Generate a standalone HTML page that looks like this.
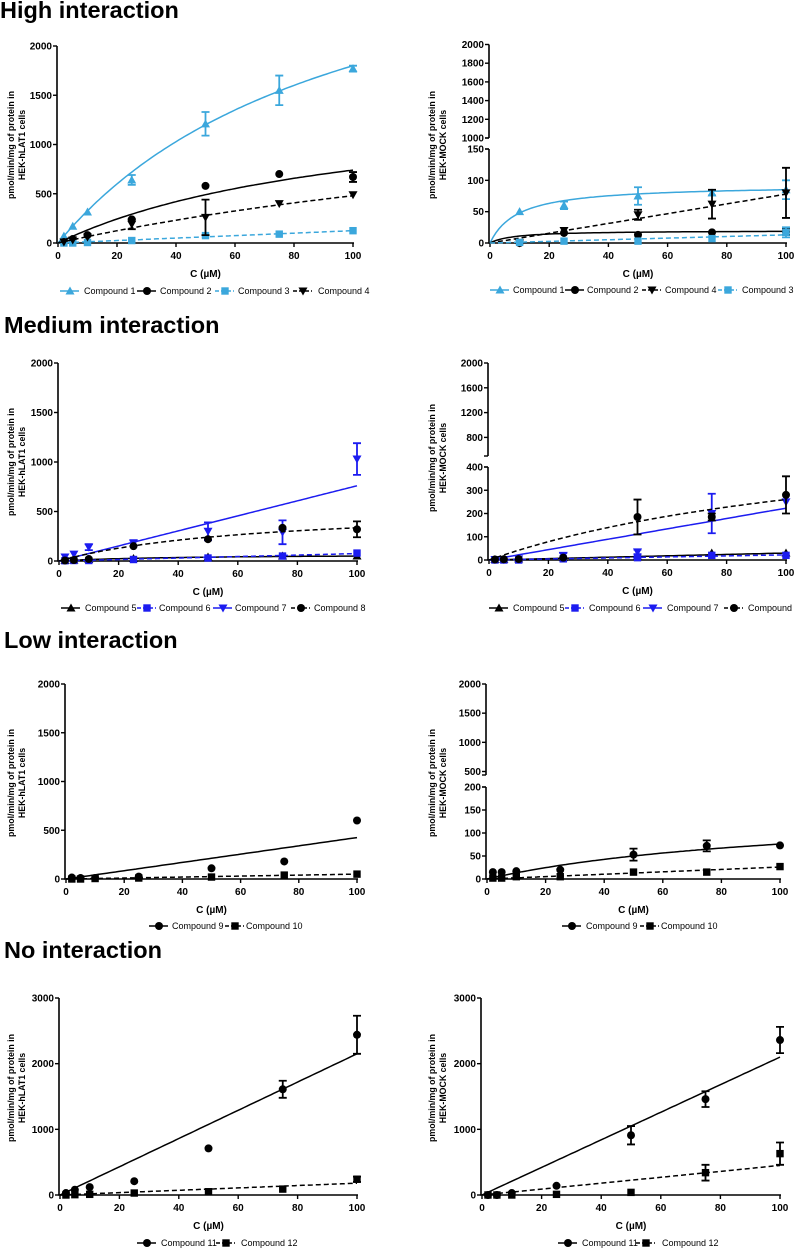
<!DOCTYPE html>
<html><head><meta charset="utf-8">
<style>
html,body{margin:0;padding:0;background:#fff;}
svg{display:block;font-family:"Liberation Sans",Arial,sans-serif;}
.t{font-weight:bold;font-size:23.5px;}
.tk{font-weight:bold;font-size:10px;}
.yt{font-weight:bold;font-size:8.8px;}
.lg{font-size:9px;}
</style></head>
<body>
<svg id="fig" width="794" height="1249" viewBox="0 0 794 1249">
<text class="t" x="0" y="18">High interaction</text>
<text class="t" x="4" y="333">Medium interaction</text>
<text class="t" x="4" y="648">Low interaction</text>
<text class="t" x="4" y="958">No interaction</text>
</svg>
<script>
// ---------- data ----------
const xConc = [2,5,10,25,50,75,100];
const xTicks = [0,20,40,60,80,100];
// Panel A (high, hLAT1)
const a1y=[70,170,315,640,1210,1550,1770], a1e=[0,0,0,50,120,150,30];
const a2y=[10,40,80,240,580,700,670], a2e=[0,0,0,0,0,0,50];
const a3y=[0,0,5,25,75,90,125], a3e=[0,0,0,0,0,0,0];
const a4y=[10,30,60,190,260,400,490], a4e=[0,0,0,50,180,0,0];
// Panel B (high, MOCK)
const bX=[10,25,50,75,100];
const b1y=[50,60,75,80,85], b1e=[0,6,14,4,15];
const b2y=[0,16,13,17,18], b2e=[0,0,0,0,5];
const b4y=[0,20,45,62,80], b4e=[0,0,8,23,40];
const b3y=[1,3,3,7,17], b3e=[0,0,0,0,8];
// Panel C (medium, hLAT1)
const c5y=[5,10,15,25,40,50,50], c5e=[0,0,0,0,0,0,0];
const c6y=[3,5,5,15,30,50,80], c6e=[0,0,0,0,0,0,0];
const c7y=[40,70,140,180,300,290,1030], c7e=[0,0,30,30,90,120,160];
const c8y=[5,10,20,150,220,335,320], c8e=[0,0,0,0,0,0,80];
// Panel D (medium, MOCK)
const d5y=[2,3,5,10,15,30,30], d5e=[0,0,0,0,0,0,0];
const d6y=[0,0,0,5,10,20,20], d6e=[0,0,0,0,0,0,0];
const d7y=[2,2,5,20,35,200,250], d7e=[0,0,0,10,10,85,0];
const d8y=[2,3,4,10,185,185,280], d8e=[0,0,0,0,75,15,80];
// Panel E (low, hLAT1)
const e9y=[15,10,10,25,110,180,600], e9e=[0,0,0,0,0,0,0];
const e10y=[0,0,5,10,20,40,50], e10e=[0,0,0,0,0,0,0];
// Panel F (low, MOCK)
const f9y=[15,15,17,20,53,72,73], f9e=[0,0,0,0,13,12,0];
const f10y=[2,2,5,5,15,15,27], f10e=[0,0,0,0,0,0,0];
// Panel G (none, hLAT1)
const g11y=[30,80,120,210,710,1610,2440], g11e=[0,0,0,0,0,130,290];
const g12y=[0,5,10,30,50,90,240], g12e=[0,0,0,0,0,0,40];
// Panel H (none, MOCK)
const h11y=[0,0,30,140,910,1460,2360], h11e=[0,0,0,0,140,120,200];
const h12y=[0,0,0,10,40,340,630], h12e=[0,0,0,0,0,120,170];
// fit parameters: Michaelis-Menten [Vmax, Km] or linear [slope]
const fitA=[[3600,100],[1510,104],[1.25],[1680,250]];
const fitB=[[93,9.4],[20,8],[0.78],[0.13]];
const fitC=[[70,40],[0.75],[7.6],[555,65.5]];
const fitD=[[0.3],[0.22],[2.23],[614,136]];
const fitE=[[4.25],[0.5]];
const fitF=[[158,108],[0.26]];
const fitG=[[21.5],[1.8]];
const fitH=[[21],[4.5]];

// ---------- rendering ----------
const NS="http://www.w3.org/2000/svg";
const svg=document.getElementById('fig');
const LB="#3ba7dc", BL="#1c1cf0", K="#000";
function mk(tag,attrs,parent){const e=document.createElementNS(NS,tag);for(const k in attrs)e.setAttribute(k,attrs[k]);(parent||svg).appendChild(e);return e;}

function marker(g,type,x,y,color){
  let m;
  if(type==='tri') m=mk('polygon',{points:`${x},${y-4.5} ${x-4.5},${y+3.5} ${x+4.5},${y+3.5}`,fill:color},g);
  else if(type==='dtri') m=mk('polygon',{points:`${x},${y+4.5} ${x-4.5},${y-3.5} ${x+4.5},${y-3.5}`,fill:color},g);
  else if(type==='circ') m=mk('circle',{cx:x,cy:y,r:4,fill:color},g);
  else m=mk('rect',{x:x-3.7,y:y-3.7,width:7.4,height:7.4,fill:color},g);
  
  
  return m;
}

function panel(p){
  const g=mk('g',{});
  
  
  const X=v=>p.x0+(p.x1-p.x0)*v/100;
  const Y=v=>{
    let s=p.segs[0];
    if(v>s.hi && p.segs[1]) s=p.segs[1];
    const vv=Math.max(s.lo,Math.min(s.hi,v));
    return s.yb+(s.yt-s.yb)*(vv-s.lo)/(s.hi-s.lo);
  };
  p.segs.forEach((s,i)=>{
    const ax=mk('line',{x1:p.x0-1,y1:s.yb,x2:p.x0-1,y2:s.yt,stroke:K,'stroke-width':1.6},g);
    
    
    if(p.segs.length>1){
      const yy=i===0?s.yt:s.yb;
      mk('line',{x1:p.x0-5,y1:yy,x2:p.x0-1,y2:yy,stroke:K,'stroke-width':1.4},g);
    }
    s.ticks.forEach(t=>{
      const y=Y(t);
      mk('line',{x1:p.x0-5,y1:y,x2:p.x0-1,y2:y,stroke:K,'stroke-width':1.4},g);
      const tx=mk('text',{x:p.x0-6,y:y+3.5,'text-anchor':'end',class:'tk'},g);
      tx.textContent=t;
      
      
    });
  });
  const y0=p.segs[0].yb;
  const xa=mk('line',{x1:p.x0-1.8,y1:y0,x2:p.x1+1,y2:y0,stroke:K,'stroke-width':1.6},g);
  
  
  xTicks.forEach(t=>{
    mk('line',{x1:X(t),y1:y0,x2:X(t),y2:y0+4,stroke:K,'stroke-width':1.4},g);
    const tx=mk('text',{x:X(t),y:y0+16,'text-anchor':'middle',class:'tk'},g);
    tx.textContent=t;
    
    
  });
  const xl=mk('text',{x:(p.x0+p.x1)/2,y:y0+34,'text-anchor':'middle',class:'tk'},g);
  xl.textContent='C (\u00b5M)';
  
  
  const yt=mk('text',{transform:`translate(${p.ytx},${p.ytc}) rotate(-90)`,'text-anchor':'middle',class:'yt'},g);
  
  
  const s1=mk('tspan',{x:0,y:0},yt); s1.textContent='pmol/min/mg of protein in';
  const s2=mk('tspan',{x:0,y:11},yt); s2.textContent=p.cells;
  p.series.forEach((s,si)=>{
    const sg=mk('g',{},g);
    
    
    const f=s.fit; let pts=[];
    for(let i=0;i<=100;i++){const x=i;const v=f.length===2?f[0]*x/(f[1]+x):f[0]*x;pts.push(X(x).toFixed(1)+','+Y(v).toFixed(1));}
    const fl=mk('polyline',{points:pts.join(' '),fill:'none',stroke:s.color,'stroke-width':1.5,'stroke-dasharray':s.dash?'5,3':'none'},sg);
    
    
    s.xs.forEach((x,i)=>{
      const e=s.err[i], v=s.ys[i];
      if(e>0){
        const yt2=Y(v+e), yb2=Y(Math.max(0,v-e)), cx=X(x);
        const eb=mk('path',{d:`M${cx},${yt2}V${yb2}M${cx-4},${yt2}H${cx+4}M${cx-4},${yb2}H${cx+4}`,stroke:s.color,'stroke-width':1.8,fill:'none'},sg);
        
        
      }
      marker(sg,s.m,X(x),Y(v),s.color);
    });
  });
  p.series.forEach((s,i)=>{
    const lx=p.leg[i][0], ly=p.legY;
    const lg=mk('g',{},g);
    
    
    mk('line',{x1:lx,y1:ly,x2:lx+19,y2:ly,stroke:s.color,'stroke-width':1.4,'stroke-dasharray':s.dash?'4,2':'none'},lg);
    const mm=marker(lg,s.m,lx+10,ly,s.color);
    
    const t=mk('text',{x:p.leg[i][1],y:ly+3,class:'lg'},lg);
    t.textContent=s.label;
  });
}

function S(label,color,dash,m,xs,ys,err,fit){return {label,color,dash,m,xs,ys,err,fit};}
const T05=[0,500,1000,1500,2000];

panel({name:'panel-high-hlat1',x0:58,x1:353,ytx:14,ytc:145,cells:'HEK-hLAT1 cells',
  segs:[{lo:0,hi:2000,yb:243,yt:46,ticks:T05}],legY:291,
  leg:[[60,84],[137,160],[215,238],[293,318]],
  series:[S('Compound 1',LB,false,'tri',xConc,a1y,a1e,fitA[0]),S('Compound 2',K,false,'circ',xConc,a2y,a2e,fitA[1]),
          S('Compound 3',LB,true,'sq',xConc,a3y,a3e,fitA[2]),S('Compound 4',K,true,'dtri',xConc,a4y,a4e,fitA[3])]});
panel({name:'panel-high-mock',x0:490,x1:786,ytx:435,ytc:145,cells:'HEK-MOCK cells',
  segs:[{lo:0,hi:150,yb:243,yt:149,ticks:[0,50,100,150]},{lo:1000,hi:2000,yb:138,yt:44.5,ticks:[1000,1200,1400,1600,1800,2000]}],legY:290,
  leg:[[490,513],[565,587],[642,665],[718,742]],
  series:[S('Compound 1',LB,false,'tri',bX,b1y,b1e,fitB[0]),S('Compound 2',K,false,'circ',bX,b2y,b2e,fitB[1]),
          S('Compound 4',K,true,'dtri',bX,b4y,b4e,fitB[2]),S('Compound 3',LB,true,'sq',bX,b3y,b3e,fitB[3])]});
panel({name:'panel-medium-hlat1',x0:59,x1:357,ytx:14,ytc:462,cells:'HEK-hLAT1 cells',
  segs:[{lo:0,hi:2000,yb:561,yt:363,ticks:T05}],legY:608,
  leg:[[61,85],[137,159],[213,235],[291,314]],
  series:[S('Compound 5',K,false,'tri',xConc,c5y,c5e,fitC[0]),S('Compound 6',BL,true,'sq',xConc,c6y,c6e,fitC[1]),
          S('Compound 7',BL,false,'dtri',xConc,c7y,c7e,fitC[2]),S('Compound 8',K,true,'circ',xConc,c8y,c8e,fitC[3])]});
panel({name:'panel-medium-mock',x0:489,x1:786,ytx:435,ytc:458,cells:'HEK-MOCK cells',
  segs:[{lo:0,hi:400,yb:560,yt:467,ticks:[0,100,200,300,400]},{lo:500,hi:2000,yb:456,yt:363,ticks:[800,1200,1600,2000]}],legY:608,
  leg:[[489,513],[565,589],[643,667],[724,748]],
  series:[S('Compound 5',K,false,'tri',xConc,d5y,d5e,fitD[0]),S('Compound 6',BL,true,'sq',xConc,d6y,d6e,fitD[1]),
          S('Compound 7',BL,false,'dtri',xConc,d7y,d7e,fitD[2]),S('Compound 8',K,true,'circ',xConc,d8y,d8e,fitD[3])]});
panel({name:'panel-low-hlat1',x0:66,x1:357,ytx:14,ytc:783,cells:'HEK-hLAT1 cells',
  segs:[{lo:0,hi:2000,yb:879,yt:684,ticks:T05}],legY:926,
  leg:[[149,172],[225,246]],
  series:[S('Compound 9',K,false,'circ',xConc,e9y,e9e,fitE[0]),S('Compound 10',K,true,'sq',xConc,e10y,e10e,fitE[1])]});
panel({name:'panel-low-mock',x0:487,x1:780,ytx:435,ytc:783,cells:'HEK-MOCK cells',
  segs:[{lo:0,hi:200,yb:879,yt:787,ticks:[0,50,100,150,200]},{lo:440,hi:2000,yb:775,yt:684,ticks:[500,1000,1500,2000]}],legY:926,
  leg:[[562,586],[640,661]],
  series:[S('Compound 9',K,false,'circ',xConc,f9y,f9e,fitF[0]),S('Compound 10',K,true,'sq',xConc,f10y,f10e,fitF[1])]});
panel({name:'panel-none-hlat1',x0:60,x1:357,ytx:14,ytc:1088,cells:'HEK-hLAT1 cells',
  segs:[{lo:0,hi:3000,yb:1195,yt:998,ticks:[0,1000,2000,3000]}],legY:1243,
  leg:[[137,161],[216,241]],
  series:[S('Compound 11',K,false,'circ',xConc,g11y,g11e,fitG[0]),S('Compound 12',K,true,'sq',xConc,g12y,g12e,fitG[1])]});
panel({name:'panel-none-mock',x0:482,x1:780,ytx:435,ytc:1088,cells:'HEK-MOCK cells',
  segs:[{lo:0,hi:3000,yb:1195,yt:998,ticks:[0,1000,2000,3000]}],legY:1243,
  leg:[[558,582],[636,662]],
  series:[S('Compound 11',K,false,'circ',xConc,h11y,h11e,fitH[0]),S('Compound 12',K,true,'sq',xConc,h12y,h12e,fitH[1])]});
</script>
</body></html>
